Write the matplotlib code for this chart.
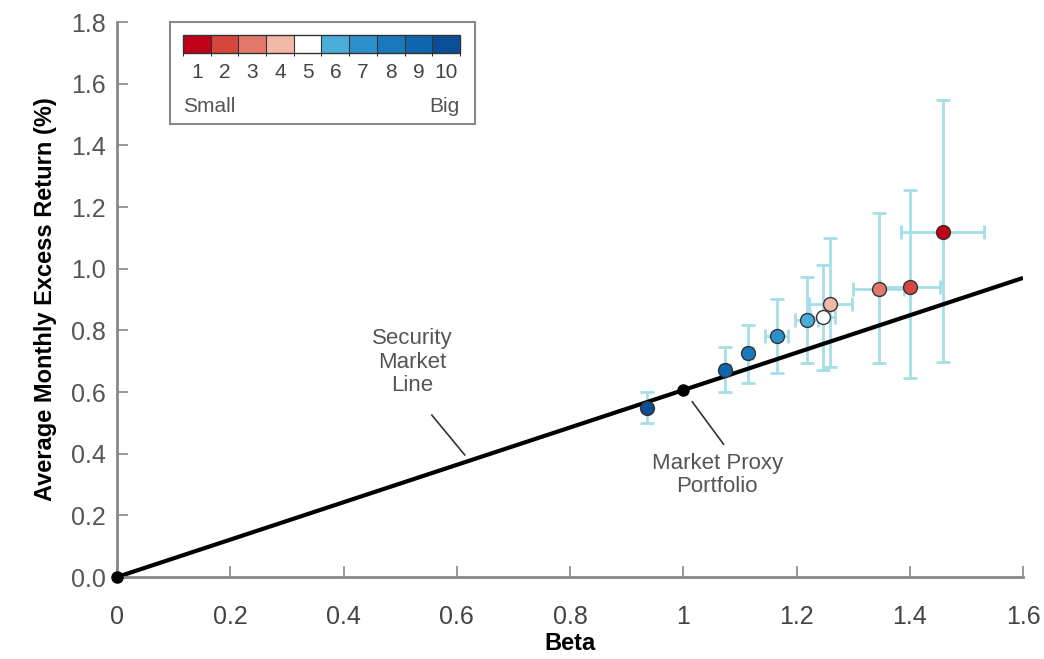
import numpy as np
import matplotlib
matplotlib.use('Agg')
from matplotlib import pyplot as plt
from matplotlib.colors import ListedColormap, BoundaryNorm
from matplotlib.cm import ScalarMappable
from matplotlib.patches import Rectangle

# size deciles, 1 = small ... 10 = big
deciles = [1, 2, 3, 4, 5, 6, 7, 8, 9, 10]
decile_colors = ['#c00018', '#d5463c', '#e3796b', '#f2b9a9', '#ffffff',
                 '#4badda', '#2e90cb', '#1a78bd', '#0f65ae', '#0a4e98']
beta = [1.458, 1.400, 1.345, 1.260, 1.246, 1.218, 1.165, 1.115, 1.074, 0.936]
ret = [1.118, 0.942, 0.933, 0.887, 0.842, 0.832, 0.783, 0.725, 0.673, 0.547]
ret_lo = [0.696, 0.644, 0.693, 0.680, 0.673, 0.693, 0.663, 0.628, 0.599, 0.498]
ret_hi = [1.546, 1.254, 1.179, 1.098, 1.011, 0.972, 0.903, 0.816, 0.745, 0.599]
beta_err = [0.073, 0.053, 0.045, 0.038, 0.022, 0.020, 0.020, 0.008, 0.008, 0.0]

# security market line and market proxy
sml_beta = [0.0, 1.6]
sml_ret = [0.0, 0.97]
mkt_beta = [0.0, 1.0]
mkt_ret = [0.0, 0.607]

xticks = [0, 0.2, 0.4, 0.6, 0.8, 1.0, 1.2, 1.4, 1.6]
xticklabels = ['0', '0.2', '0.4', '0.6', '0.8', '1', '1.2', '1.4', '1.6']
yticks = [0.0, 0.2, 0.4, 0.6, 0.8, 1.0, 1.2, 1.4, 1.6, 1.8]

plt.rcParams['font.family'] = ['Liberation Sans', 'DejaVu Sans']

fig = plt.figure(figsize=(10.44, 6.59), dpi=100)
ax = fig.add_axes([0.1121, 0.1244, 0.8678, 0.8422])

beta = np.array(beta)
ret = np.array(ret)
yerr = np.array([ret - np.array(ret_lo), np.array(ret_hi) - ret])
ax.errorbar(beta, ret, yerr=yerr, xerr=beta_err, fmt='none', ecolor='#a6dee6',
            elinewidth=2, capsize=5, capthick=2, zorder=1)

ax.plot(sml_beta, sml_ret, color='black', linewidth=3, zorder=2, solid_capstyle='butt')
ax.plot(mkt_beta, mkt_ret, linestyle='', marker='o', markersize=8, color='black',
        zorder=4, clip_on=False)

for b, r, c in zip(beta, ret, decile_colors):
    ax.plot(b, r, linestyle='', marker='o', markersize=10, markerfacecolor=c,
            markeredgecolor='#333333', markeredgewidth=1.0, zorder=3)

# annotations
ax.plot([0.556, 0.614], [0.525, 0.396], color='#333333', linewidth=1.2, zorder=2)
ax.text(0.522, 0.697, 'Security\nMarket\nLine', ha='center', va='center',
        fontsize=16, color='#555555', linespacing=1.15)
ax.plot([1.016, 1.071], [0.568, 0.431], color='#333333', linewidth=1.2, zorder=2)
ax.text(1.060, 0.331, 'Market Proxy\nPortfolio', ha='center', va='center',
        fontsize=16, color='#555555', linespacing=1.15)

ax.set_xlim(0, 1.6)
ax.set_ylim(0, 1.8)
ax.set_xticks(xticks)
ax.set_xticklabels(xticklabels)
ax.set_yticks(yticks)
ax.set_yticklabels([f'{v:.1f}' for v in yticks])
ax.tick_params(axis='x', direction='in', length=8, width=1.2, color='#888888',
               labelsize=18, labelcolor='#444444', pad=20)
ax.tick_params(axis='y', direction='in', length=8, width=1.2, color='#888888',
               labelsize=18, labelcolor='#555555', pad=8)
for s in ['top', 'right']:
    ax.spines[s].set_visible(False)
for s in ['left', 'bottom']:
    ax.spines[s].set_color('#888888')
    ax.spines[s].set_linewidth(2)
ax.set_xlabel('Beta', fontsize=17, fontweight='bold', labelpad=2)
ax.set_ylabel('Average Monthly Excess Return (%)', fontsize=17, fontweight='bold', labelpad=10)

# legend box with decile colour scale
box = Rectangle((0.1628, 0.8118), 0.2921, 0.1548, transform=fig.transFigure,
                facecolor='white', edgecolor='#888888', linewidth=1.5, zorder=5)
fig.patches.append(box)
cax = fig.add_axes([0.1753, 0.9196, 0.2653, 0.0273])
cax.set_zorder(6)
cmap = ListedColormap(decile_colors)
norm = BoundaryNorm(np.arange(0.5, 11.5, 1), cmap.N)
cb = fig.colorbar(ScalarMappable(norm=norm, cmap=cmap), cax=cax, orientation='horizontal',
                  ticks=deciles, drawedges=True)
cb.outline.set_edgecolor('#333333')
cb.outline.set_linewidth(1)
cb.dividers.set_color('#333333')
cb.dividers.set_linewidth(0.8)
cax.tick_params(length=0, labelsize=15, labelcolor='#444444', pad=7)
fig.text(0.1753, 0.838, 'Small', ha='left', va='center', fontsize=15, color='#555555', zorder=7)
fig.text(0.4406, 0.838, 'Big', ha='right', va='center', fontsize=15, color='#555555', zorder=7)

fig.savefig('out.png', dpi=100)
